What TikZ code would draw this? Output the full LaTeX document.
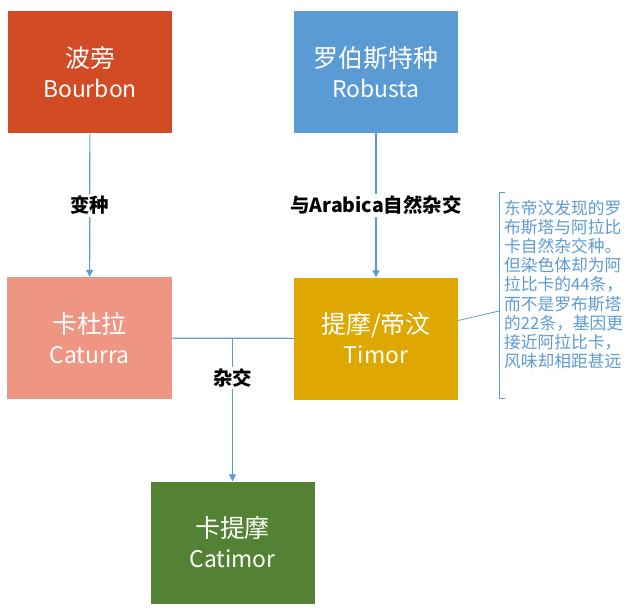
\documentclass[tikz,border=0pt]{standalone}
\usepackage{fontspec}
\setmainfont{Noto Sans CJK SC}
\usetikzlibrary{arrows.meta}
\definecolor{bourbon}{HTML}{D24B25}
\definecolor{robusta}{HTML}{5B9BD5}
\definecolor{caturra}{HTML}{EE9683}
\definecolor{timor}{HTML}{DFA800}
\definecolor{catimor}{HTML}{548235}
\definecolor{linkblue}{HTML}{5B9BD5}

\begin{document}
\begin{tikzpicture}[x=1bp, y=-1bp]
	% Styles
	\tikzstyle{variety}=[rectangle, minimum width=164bp, minimum height=122bp, inner sep=0pt, text=white, align=center, font=\fontsize{25}{30}\selectfont]
	\tikzstyle{wire}=[draw=linkblue, line width=1.2bp]
	\tikzstyle{link}=[wire, -{Triangle[length=7bp,width=7bp]}]
	\tikzstyle{edgetext}=[fill=white, inner sep=2bp, font=\fontsize{19.5}{23}\selectfont\bfseries]
	\tikzstyle{notetext}=[text=linkblue, align=left, inner sep=0pt, font=\fontsize{16.8}{19.2}\selectfont]

	\useasboundingbox (0,0) rectangle (640,612);

	% Varieties
	\foreach \name/\x/\y/\cn/\en in {bourbon/90/72.5/波旁/Bourbon, robusta/376/72/罗伯斯特种/Robusta, caturra/89.5/338/卡杜拉/Caturra, timor/376/338.5/{提摩/帝汶}/Timor, catimor/232.5/542.5/卡提摩/Catimor}
	\node[variety, fill=\name] (\name) at (\x,\y) {\cn\\\fontsize{23}{30}\selectfont\en};

	% Lineage
	\path[link] (bourbon) -- node[edgetext] {变种} (caturra);
	\path[link] (robusta) -- node[edgetext] {与Arabica自然杂交} (timor);

	% Cross of Caturra and Timor
	\path[wire] (caturra) -- (timor);
	\coordinate (cross) at (catimor.north |- caturra.east);
	\path[link] (cross) -- node[edgetext, pos=0.28] {杂交} (catimor);

	% Note on Timor
	\coordinate (notetop) at (499,192);
	\coordinate (notebot) at (499,398);
	\coordinate (notemid) at (499,311);
	\draw[linkblue, line width=0.8bp] (notetop) ++(6,0) -- (notetop) -- (notebot) -- ++(6,0);
	\draw[linkblue, line width=0.8bp] (timor.east) ++(0,-18) -- (notemid);
	\node[notetext, anchor=north west] (note) at (504,200) {东帝汶发现的罗\\布斯塔与阿拉比\\卡自然杂交种。\\但染色体却为阿\\拉比卡的44条，\\而不是罗布斯塔\\的22条，基因更\\接近阿拉比卡，\\风味却相距甚远};
\end{tikzpicture}
\end{document}
